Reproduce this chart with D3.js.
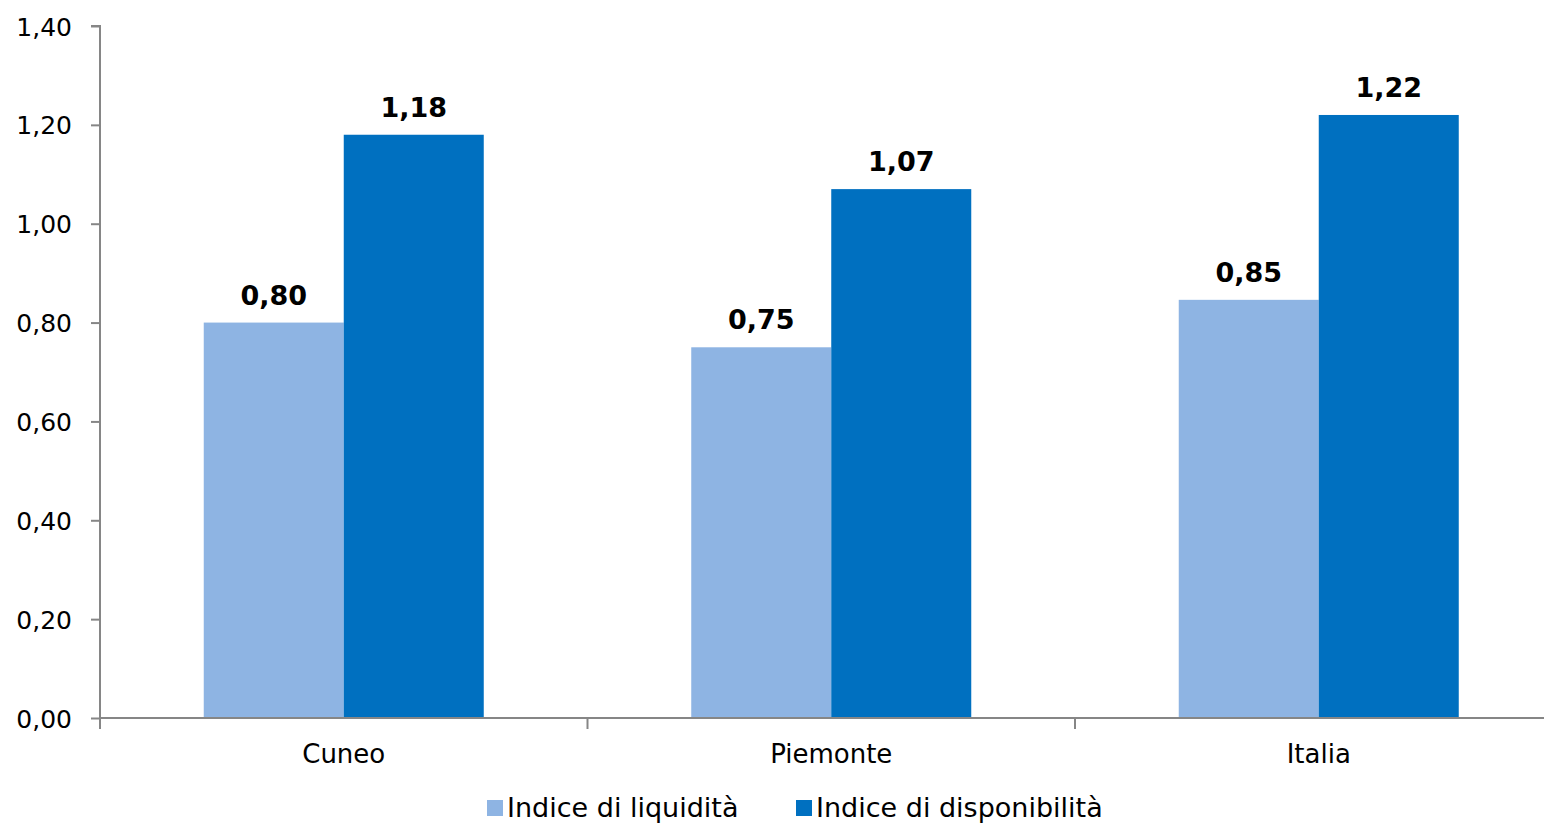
<!DOCTYPE html>
<html>
<head>
<meta charset="utf-8">
<script src="https://cdn.jsdelivr.net/npm/d3@7"></script>
<style>
  body { margin: 0; background: #fff; }
  svg text { font-family: "DejaVu Sans", Verdana, sans-serif; fill: #000; }
  .axis path, .axis line { stroke: #868686; stroke-width: 2; }
</style>
</head>
<body>
<div id="chartDiv"></div>
<script>
const categories = ["Cuneo", "Piemonte", "Italia"];
const seriesNames = ["Indice di liquidità", "Indice di disponibilità"];
const liquidita = [0.80, 0.75, 0.846];
const disponibilita = [1.18, 1.07, 1.22];
const yTicks = [0, 0.2, 0.4, 0.6, 0.8, 1.0, 1.2, 1.4];
const colors = ["#8EB4E3", "#0070C0"];

const width = 1544, height = 824;
const margin = {top: 26, left: 100, bottom: 106};
// the plot runs past the right edge of the picture
const plotRight = 1562.5;

const svg = d3.select("#chartDiv").append("svg")
    .attr("width", width)
    .attr("height", height);

const x0 = d3.scaleBand()
    .domain(categories)
    .range([margin.left, plotRight])
    .paddingInner(0)
    .paddingOuter(0);

const x1 = d3.scaleBand()
    .domain(seriesNames)
    .range([0, x0.bandwidth()])
    .paddingInner(0)
    .paddingOuter(0.741);

const y = d3.scaleLinear()
    .domain([0, 1.4])
    .range([height - margin.bottom, margin.top]);

const fmt = v => d3.format(".2f")(v).replace(".", ",");

// y axis
const yAxis = svg.append("g")
    .attr("class", "axis")
    .attr("transform", `translate(${margin.left},0)`)
    .call(d3.axisLeft(y).tickValues(yTicks).tickSize(9).tickPadding(19).tickFormat(fmt));
yAxis.select(".domain").attr("d", `M-9,${y(1.4)}H0V${y(0)}`);
yAxis.selectAll(".tick text").style("font-size", "25px").attr("dy", "0.36em");

// bars
const rows = categories.map((c, i) => ({name: c, values: [liquidita[i], disponibilita[i]]}));

const groups = svg.selectAll("g.cat")
    .data(rows)
    .enter().append("g")
    .attr("class", "cat")
    .attr("transform", d => `translate(${x0(d.name)},0)`);

groups.selectAll("rect")
    .data(d => d.values.map((v, j) => ({series: seriesNames[j], value: v, j: j})))
    .enter().append("rect")
    .attr("x", d => x1(d.series))
    .attr("width", x1.bandwidth())
    .attr("y", d => y(d.value))
    .attr("height", d => y(0) - y(d.value))
    .style("fill", d => colors[d.j]);

groups.selectAll("text.valueLabel")
    .data(d => d.values.map((v, j) => ({series: seriesNames[j], value: v})))
    .enter().append("text")
    .attr("class", "valueLabel")
    .attr("x", d => x1(d.series) + x1.bandwidth() / 2)
    .attr("y", d => y(d.value) - 18)
    .style("text-anchor", "middle")
    .style("font-size", "27px")
    .style("font-weight", "bold")
    .text(d => fmt(d.value));

// x axis
const xAxisG = svg.append("g")
    .attr("class", "axis")
    .attr("transform", `translate(0,${y(0)})`);
xAxisG.append("path")
    .attr("class", "domain")
    .attr("d", `M${margin.left},0H${plotRight}`);
xAxisG.selectAll("line.sep")
    .data(categories)
    .enter().append("line")
    .attr("x1", d => x0(d))
    .attr("x2", d => x0(d))
    .attr("y1", 0)
    .attr("y2", 11);
xAxisG.selectAll("text.cat")
    .data(categories)
    .enter().append("text")
    .attr("x", d => x0(d) + x0.bandwidth() / 2)
    .attr("y", 45)
    .style("text-anchor", "middle")
    .style("font-size", "26px")
    .text(d => d);

// legend
const legendX = [487, 796];
const legend = svg.selectAll("g.legend")
    .data(seriesNames)
    .enter().append("g")
    .attr("class", "legend")
    .attr("transform", (d, i) => `translate(${legendX[i]},800)`);
legend.append("rect")
    .attr("width", 16)
    .attr("height", 16)
    .style("fill", (d, i) => colors[i]);
legend.append("text")
    .attr("x", 20)
    .attr("y", 17)
    .style("font-size", "27px")
    .text(d => d);
</script>
</body>
</html>
